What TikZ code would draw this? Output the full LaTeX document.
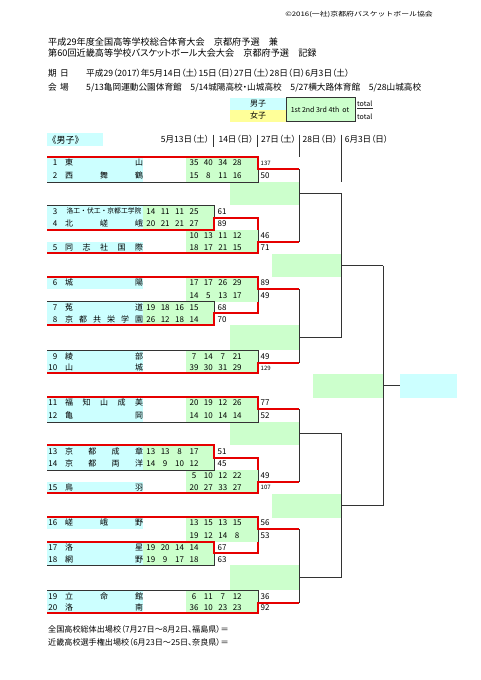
\documentclass[tikz,border=0pt]{standalone}
\usepackage{fontspec}
\setmainfont{Noto Sans CJK JP}
\newfontfamily\pf[RawFeature=+palt]{Noto Sans CJK JP}
\definecolor{cy}{HTML}{CCFFFF}
\definecolor{gr}{HTML}{CCFFCC}
\definecolor{ye}{HTML}{FFFF99}
\definecolor{rd}{HTML}{E60000}
\definecolor{bk}{HTML}{333333}
\tikzset{
  bt/.style={inner sep=0pt, font=\fontsize{8}{9}\selectfont, text height=5.8pt, text depth=0pt},
  tt/.style={bt, anchor=west},
  tots/.style={inner sep=0pt, font=\fontsize{6}{7}\selectfont, text height=4.3pt, text depth=0pt, anchor=west},
  smallname/.style={inner sep=0pt, font=\fontsize{6.8}{7}\selectfont, text height=4.9pt, text depth=0pt},
  ttl/.style={inner sep=0pt, anchor=west, font=\pf\fontsize{9.15}{11}\selectfont, text height=6.6pt, text depth=0pt},
  info/.style={inner sep=0pt, anchor=west, font=\pf\fontsize{8.65}{10}\selectfont, text height=6.2pt, text depth=0pt},
  foot/.style={inner sep=0pt, anchor=west, font=\pf\fontsize{8.1}{10}\selectfont, text height=5.9pt, text depth=0pt},
  hdr/.style={inner sep=0pt, font=\pf\fontsize{8.5}{10}\selectfont, text height=6.1pt, text depth=0pt},
  redl/.style={draw=rd, line width=2.2pt, line join=miter},
  blkl/.style={draw=bk, line width=0.9pt},
}
\newcommand\tmrow[5]{%
  \node[bt, anchor=east] (#1n) at (57.5,#2) {#3};
  \foreach \ch [count=\i] in {#5}{%
    \pgfmathsetmacro\xx{69+(\i-1)*70/(#4-1)}%
    \node[bt] (#1c\i) at (\xx,#2) {\ch};}}
\newcommand\scrow[4]{%
  \foreach \v [count=\i] in {#4}{%
    \pgfmathsetmacro\xx{150.8+14.4*(#3+\i-1)}%
    \node[bt] (#1s\i) at (\xx,#2) {\v};}}
\newcommand\fillsA{%
  \fill[cy] (47,156.7) rectangle (143,182.3);
  \fill[gr] (186,156.7) rectangle (258,182.3);
  \fill[gr] (230,182.3) rectangle (299,205);
  \fill[cy] (47,205) rectangle (143,230);
  \fill[gr] (143,205) rectangle (214,230);
  \fill[gr] (186,230) rectangle (258,253.3);
  \fill[cy] (47,241.7) rectangle (143,253.3);}
\newcommand\fillsB{%
  \fill[cy] (47,276.7) rectangle (143,289.3);
  \fill[gr] (186,276.7) rectangle (258,301.7);
  \fill[cy] (47,301.7) rectangle (143,325);
  \fill[gr] (143,301.7) rectangle (214,325);
  \fill[gr] (230,325) rectangle (299,350);
  \fill[cy] (47,350) rectangle (143,373.3);
  \fill[gr] (186,350) rectangle (258,373.3);}
\newcommand\linesAcommon{%
  \draw[blkl] (299,169.3) -- (299,241.7);
  \draw[blkl] (299,193.3) -- (341,193.3);
  \draw[blkl] (258,169.3) -- (258,182.3) -- (47,182.3);
  \draw[redl] (47,156.7) -- (258,156.7) -- (258,169.3) -- (299,169.3);
  \draw[blkl] (258,230) -- (258,241.7);
  \draw[redl] (47,253.3) -- (258,253.3) -- (258,241.7) -- (299,241.7);}
\newcommand\linesBcommon{%
  \draw[blkl] (299,289.3) -- (299,362.7);
  \draw[blkl] (299,337.7) -- (341,337.7);
  \draw[blkl] (258,289.3) -- (258,301.7);
  \draw[redl] (47,276.7) -- (258,276.7) -- (258,289.3) -- (299,289.3);
  \draw[blkl] (47,350) -- (258,350) -- (258,362.7);
  \draw[redl] (47,373.3) -- (258,373.3) -- (258,362.7) -- (299,362.7);}
\begin{document}
\begin{tikzpicture}[x=1pt,y=-1pt]
\useasboundingbox (0,0) rectangle (481,680);
\fill[white] (0,0) rectangle (481,680);

% header
\node[inner sep=0pt, anchor=east, xscale=1.27, font=\fontsize{6.2}{7}\selectfont] (copy) at (433,15) {©2016(一社)京都府バスケットボール協会};
\node[ttl] (t1) at (48,42.5) {平成29年度全国高等学校総合体育大会　京都府予選　兼};
\node[ttl] (t2) at (48,53.5) {第60回近畿高等学校バスケットボール大会大会　京都府予選　記録};
\node[info] (k1) at (48,73) {期};
\node[info] (k2) at (60,73) {日};
\node[info] (k3) at (86,73) {平成29（2017）年5月14日（土）15日（日）27日（土）28日（日）6月3日（土）};
\node[info] (v1) at (48,87.5) {会};
\node[info] (v2) at (60,87.5) {場};
\node[info] (v3) at (86,87.5) {5/13亀岡運動公園体育館　5/14城陽高校・山城高校　5/27横大路体育館　5/28山城高校};

% legend
\fill[cy] (230,98) rectangle (286,109.5);
\fill[ye] (230,109.5) rectangle (286,121.5);
\fill[gr] (286,97.5) rectangle (355,121.5);
\draw[blkl] (286,97.5) rectangle (355,121.5);
\node[bt] (lm) at (258,103.8) {男子};
\node[bt] (lf) at (258,115.5) {女子};
\node[inner sep=0pt, font=\fontsize{7}{8}\selectfont] (lq) at (320,109.5) {1st 2nd 3rd 4th\ \ ot};
\node[inner sep=0pt, anchor=west, font=\fontsize{7}{8}\selectfont] (lt1) at (357,104) {total};
\node[inner sep=0pt, anchor=west, font=\fontsize{7}{8}\selectfont] (lt2) at (357,117) {total};
\draw[blkl, line width=0.6pt] (lt1.south west) ++(0,1.2) coordinate (tl) -- ++(16,0);

% section title and dates
\fill[cy] (46.7,133.3) rectangle (103.3,146);
\node[inner sep=0pt, anchor=west, font=\fontsize{9}{10}\selectfont] (sec) at (47.5,139.6) {《男子》};
\node[hdr] (d1) at (185,139.5) {5月13日（土）};
\node[hdr] (d2) at (236,139.5) {14日（日）};
\node[hdr] (d3) at (278.5,139.5) {27日（土）};
\node[hdr] (d4) at (320,139.5) {28日（日）};
\node[hdr] (d5) at (366.5,139.5) {6月3日（日）};
\draw[blkl] (213.3,134.5) -- (213.3,147);
\draw[blkl] (257.5,134.5) -- (257.5,147);
\draw[blkl] (299,134.5) -- (299,156.7);
\draw[blkl] (341,134.5) -- (341,182);

% fills
\fillsA
\fillsB
\begin{scope}[shift={(0,240)}]
\fillsA
\fillsB
\end{scope}
\fill[gr] (272,254) rectangle (341,277);
\fill[gr] (272,494) rectangle (341,518);
\fill[gr] (313,374) rectangle (383,398);
\fill[cy] (400,374) rectangle (457,398);

% bracket lines, block 1
\linesAcommon
\draw[blkl] (47,205) -- (214,205) -- (214,217.7);
\draw[redl] (47,230) -- (214,230) -- (214,217.7) -- (258,217.7) -- (258,230);
% block 2
\linesBcommon
\draw[blkl] (47,301.7) -- (214,301.7) -- (214,313.3);
\draw[redl] (47,325) -- (214,325) -- (214,313.3) -- (258,313.3) -- (258,301.7);
\begin{scope}[shift={(0,240)}]
% block 3
\linesAcommon
\draw[blkl] (47,230) -- (214,230) -- (214,217.7);
\draw[redl] (47,205) -- (214,205) -- (214,217.7) -- (258,217.7) -- (258,230);
% block 4
\linesBcommon
\draw[blkl] (47,325) -- (214,325) -- (214,313.3);
\draw[redl] (47,301.7) -- (214,301.7) -- (214,313.3) -- (258,313.3) -- (258,301.7);
\end{scope}
% later rounds
\draw[blkl] (341,193.3) -- (341,337.7);
\draw[blkl] (341,265.5) -- (383,265.5);
\draw[blkl] (341,433.3) -- (341,577.7);
\draw[blkl] (341,505.5) -- (383,505.5);
\draw[blkl] (383,265.5) -- (383,505.5);
\draw[blkl] (383,385.5) -- (400,385.5);

% block 1 texts
\tmrow{a}{163}{1}{2}{東,山} \scrow{a}{163}{3}{35,40,34,28} \node[tots] (at) at (260.5,163) {137};
\tmrow{b}{175.8}{2}{3}{西,舞,鶴} \scrow{b}{175.8}{3}{15,8,11,16} \node[tt] (bt) at (260.5,175.8) {50};
\node[bt, anchor=east] (cn) at (57.5,211.3) {3};
\node[smallname] (cc) at (104,211.3) {洛工・伏工・京都工学院};
\scrow{c}{211.3}{0}{14,11,11,25} \node[tt] (ct) at (217.5,211.3) {61};
\tmrow{d}{223.8}{4}{3}{北,嵯,峨} \scrow{d}{223.8}{0}{20,21,21,27} \node[tt] (dt) at (217.5,223.8) {89};
\scrow{e}{235.8}{3}{10,13,11,12} \node[tt] (et) at (260.5,235.8) {46};
\tmrow{f}{247.5}{5}{5}{同,志,社,国,際} \scrow{f}{247.5}{3}{18,17,21,15} \node[tt] (ft) at (260.5,247.5) {71};
% block 2 texts
\tmrow{g}{283}{6}{2}{城,陽} \scrow{g}{283}{3}{17,17,26,29} \node[tt] (gt) at (260.5,283) {89};
\scrow{h}{295.5}{3}{14,5,13,17} \node[tt] (ht) at (260.5,295.5) {49};
\tmrow{i}{307.5}{7}{2}{菟,道} \scrow{i}{307.5}{0}{19,18,16,15} \node[tt] (it) at (217.5,307.5) {68};
\tmrow{j}{319.2}{8}{6}{京,都,共,栄,学,園} \scrow{j}{319.2}{0}{26,12,18,14} \node[tt] (jt) at (217.5,319.2) {70};
\tmrow{k}{356.3}{9}{2}{綾,部} \scrow{k}{356.3}{3}{7,14,7,21} \node[tt] (kt) at (260.5,356.3) {49};
\tmrow{l}{368}{10}{2}{山,城} \scrow{l}{368}{3}{39,30,31,29} \node[tots] (lt) at (260.5,368) {129};
% block 3 texts
\tmrow{m}{403}{11}{5}{福,知,山,成,美} \scrow{m}{403}{3}{20,19,12,26} \node[tt] (mt) at (260.5,403) {77};
\tmrow{n}{415.8}{12}{2}{亀,岡} \scrow{n}{415.8}{3}{14,10,14,14} \node[tt] (nt) at (260.5,415.8) {52};
\tmrow{o}{451.3}{13}{4}{京,都,成,章} \scrow{o}{451.3}{0}{13,13,8,17} \node[tt] (ot) at (217.5,451.3) {51};
\tmrow{p}{463.8}{14}{4}{京,都,両,洋} \scrow{p}{463.8}{0}{14,9,10,12} \node[tt] (pt) at (217.5,463.8) {45};
\scrow{q}{475.8}{3}{5,10,12,22} \node[tt] (qt) at (260.5,475.8) {49};
\tmrow{r}{487.5}{15}{2}{鳥,羽} \scrow{r}{487.5}{3}{20,27,33,27} \node[tots] (rt) at (260.5,487.5) {107};
% block 4 texts
\tmrow{s}{523}{16}{3}{嵯,峨,野} \scrow{s}{523}{3}{13,15,13,15} \node[tt] (st) at (260.5,523) {56};
\scrow{u}{535.5}{3}{19,12,14,8} \node[tt] (ut) at (260.5,535.5) {53};
\tmrow{v}{547.5}{17}{2}{洛,星} \scrow{v}{547.5}{0}{19,20,14,14} \node[tt] (vt) at (217.5,547.5) {67};
\tmrow{w}{559.2}{18}{2}{網,野} \scrow{w}{559.2}{0}{19,9,17,18} \node[tt] (wt) at (217.5,559.2) {63};
\tmrow{x}{596.3}{19}{3}{立,命,館} \scrow{x}{596.3}{3}{6,11,7,12} \node[tt] (xt) at (260.5,596.3) {36};
\tmrow{z}{608}{20}{2}{洛,南} \scrow{z}{608}{3}{36,10,23,23} \node[tt] (zt) at (260.5,608) {92};

% footer
\node[foot] (f1) at (48,629.3) {全国高校総体出場校（7月27日～8月2日、福島県）＝};
\node[foot] (f2) at (48,643) {近畿高校選手権出場校（6月23日～25日、奈良県）＝};
\end{tikzpicture}
\end{document}
